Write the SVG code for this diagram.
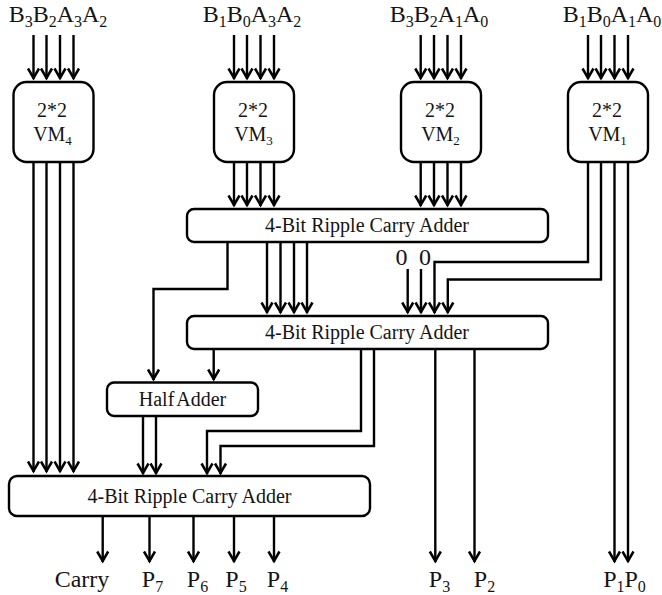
<svg xmlns="http://www.w3.org/2000/svg" width="662" height="595" viewBox="0 0 662 595">
<style>
text{font-family:"Liberation Serif","Times New Roman",serif;fill:#141414;text-anchor:middle}
.t{font-size:24px}.s{font-size:16px}
.m{font-size:20px}.ms{font-size:13px}
.a{font-size:20px}
.h{font-size:20px;word-spacing:-2px}
rect{fill:#fff;stroke:#000;stroke-width:2.4}
#connectors path{fill:none;stroke:#000;stroke-width:2.4}
.ar{marker-end:url(#h)}
</style>
<defs>
<marker id="h" markerUnits="userSpaceOnUse" markerWidth="16" markerHeight="16" viewBox="-12 -8 14 16" refX="1" refY="0" orient="auto">
<path d="M-9.500,-5.500 L0,0 L-9.500,5.500" fill="none" stroke="#000" stroke-width="2.500"/>
</marker>
</defs>
<rect x="0" y="0" width="662" height="595" style="stroke:none"/>
<g id="connectors">
<path class="ar" d="M33.500,35V79"/><path class="ar" d="M46.500,35V79"/><path class="ar" d="M60,35V79"/><path class="ar" d="M73.500,35V79"/>
<path class="ar" d="M234,35V79"/><path class="ar" d="M247,35V79"/><path class="ar" d="M260.500,35V79"/><path class="ar" d="M274,35V79"/>
<path class="ar" d="M420.700,35V79"/><path class="ar" d="M434,35V79"/><path class="ar" d="M447.500,35V79"/><path class="ar" d="M461,35V79"/>
<path class="ar" d="M588,35V79"/><path class="ar" d="M601,35V79"/><path class="ar" d="M614.500,35V79"/><path class="ar" d="M628,35V79"/>
<path class="ar" d="M33.500,161V472"/><path class="ar" d="M46.500,161V472"/><path class="ar" d="M60,161V472"/><path class="ar" d="M73.500,161V472"/>
<path class="ar" d="M234,162V206"/><path class="ar" d="M247,162V206"/><path class="ar" d="M260.500,162V206"/><path class="ar" d="M274,162V206"/>
<path class="ar" d="M420.700,162V206"/><path class="ar" d="M434,162V206"/><path class="ar" d="M447.500,162V206"/><path class="ar" d="M461,162V206"/>
<path class="ar" d="M227.500,242V289H153.500V380"/>
<path class="ar" d="M267,242V313"/><path class="ar" d="M280.500,242V313"/><path class="ar" d="M294,242V313"/><path class="ar" d="M307,242V313"/>
<path class="ar" d="M407.700,269V313"/><path class="ar" d="M421,269V313"/>
<path class="ar" d="M588,161V262H434.500V313"/>
<path class="ar" d="M601,161V279.500H447.800V313"/>
<path class="ar" d="M614.500,161V562"/><path class="ar" d="M628,161V562"/>
<path class="ar" d="M213.700,349V380"/>
<path class="ar" d="M361,349V431H207V474"/>
<path class="ar" d="M374,349V446H220.500V474"/>
<path class="ar" d="M435.300,349V562"/><path class="ar" d="M474.500,349V562"/>
<path class="ar" d="M143,416V474"/><path class="ar" d="M156,416V474"/>
<path class="ar" d="M102.700,516V562"/><path class="ar" d="M149.500,516V562"/><path class="ar" d="M193.500,516V562"/><path class="ar" d="M234,516V562"/><path class="ar" d="M274,516V562"/>
</g>
<g id="vm4"><rect x="13.500" y="82" width="80" height="80" rx="13"/><text class="m" x="52" y="117">2*2</text><text class="m" x="52.500" y="141">VM<tspan class="ms" dy="4">4</tspan></text></g>
<g id="vm3"><rect x="214" y="82" width="80" height="80" rx="13"/><text class="m" x="253" y="117">2*2</text><text class="m" x="253.500" y="141">VM<tspan class="ms" dy="4">3</tspan></text></g>
<g id="vm2"><rect x="401" y="82" width="80" height="80" rx="13"/><text class="m" x="440" y="117">2*2</text><text class="m" x="440.500" y="141">VM<tspan class="ms" dy="4">2</tspan></text></g>
<g id="vm1"><rect x="568" y="82" width="80" height="80" rx="13"/><text class="m" x="607" y="117">2*2</text><text class="m" x="607.500" y="141">VM<tspan class="ms" dy="4">1</tspan></text></g>
<g id="adder1"><rect x="187" y="209" width="361" height="33" rx="7"/><text class="a" x="367" y="232">4-Bit Ripple Carry Adder</text></g>
<g id="adder2"><rect x="187" y="316" width="361" height="33" rx="7"/><text class="a" x="367" y="339">4-Bit Ripple Carry Adder</text></g>
<g id="halfadder"><rect x="107" y="382.500" width="151" height="33.500" rx="7"/><text class="h" x="182.500" y="406">Half Adder</text></g>
<g id="adder3"><rect x="9" y="476" width="361" height="40" rx="8"/><text class="a" x="189.500" y="503">4-Bit Ripple Carry Adder</text></g>
<g id="labels">
<text class="t" x="58" y="22">B<tspan class="s" dy="5">3</tspan><tspan dy="-5">B</tspan><tspan class="s" dy="5">2</tspan><tspan dy="-5">A</tspan><tspan class="s" dy="5">3</tspan><tspan dy="-5">A</tspan><tspan class="s" dy="5">2</tspan></text>
<text class="t" x="252" y="22">B<tspan class="s" dy="5">1</tspan><tspan dy="-5">B</tspan><tspan class="s" dy="5">0</tspan><tspan dy="-5">A</tspan><tspan class="s" dy="5">3</tspan><tspan dy="-5">A</tspan><tspan class="s" dy="5">2</tspan></text>
<text class="t" x="439" y="22">B<tspan class="s" dy="5">3</tspan><tspan dy="-5">B</tspan><tspan class="s" dy="5">2</tspan><tspan dy="-5">A</tspan><tspan class="s" dy="5">1</tspan><tspan dy="-5">A</tspan><tspan class="s" dy="5">0</tspan></text>
<text class="t" x="612" y="22">B<tspan class="s" dy="5">1</tspan><tspan dy="-5">B</tspan><tspan class="s" dy="5">0</tspan><tspan dy="-5">A</tspan><tspan class="s" dy="5">1</tspan><tspan dy="-5">A</tspan><tspan class="s" dy="5">0</tspan></text>
<text class="t" x="401.500" y="265">0</text><text class="t" x="425" y="265">0</text>
<text class="t" x="82" y="587">Carry</text>
<text class="t" x="152.500" y="587">P<tspan class="s" dy="5">7</tspan></text>
<text class="t" x="197.500" y="587">P<tspan class="s" dy="5">6</tspan></text>
<text class="t" x="236" y="587">P<tspan class="s" dy="5">5</tspan></text>
<text class="t" x="277.500" y="587">P<tspan class="s" dy="5">4</tspan></text>
<text class="t" x="439.500" y="587">P<tspan class="s" dy="5">3</tspan></text>
<text class="t" x="484.500" y="587">P<tspan class="s" dy="5">2</tspan></text>
<text class="t" x="624.500" y="587">P<tspan class="s" dy="5">1</tspan><tspan dy="-5">P</tspan><tspan class="s" dy="5">0</tspan></text>
</g>
</svg>
